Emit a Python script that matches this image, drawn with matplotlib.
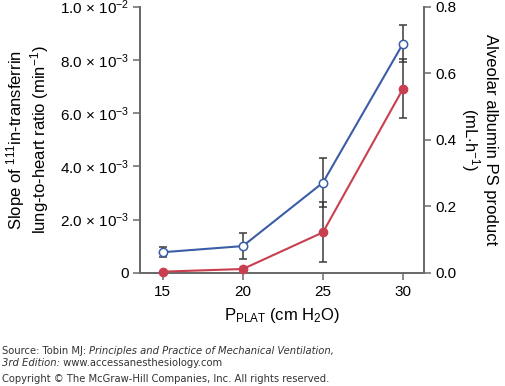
import matplotlib
matplotlib.use("Agg")
import matplotlib.pyplot as plt

plt.rcParams["font.family"] = ["Liberation Sans", "DejaVu Sans"]
plt.rcParams["mathtext.fontset"] = "custom"
plt.rcParams["mathtext.rm"] = "Liberation Sans"
plt.rcParams["mathtext.it"] = "Liberation Sans:italic"

pplat = [15, 20, 25, 30]
# 111In-transferrin slope (left axis, min^-1)
transferrin = [0.78e-3, 1.01e-3, 3.39e-3, 8.61e-3]
transferrin_err = [0.19e-3, 0.50e-3, 0.92e-3, 0.71e-3]
# alveolar albumin PS product (right axis, mL/h)
albumin = [0.004, 0.012, 0.122, 0.553]
albumin_err = [0.0, 0.0, 0.090, 0.089]

left_ticks = [0, 2e-3, 4e-3, 6e-3, 8e-3, 1e-2]
left_labels = ["0", "2.0 \u00d7 10$^{-3}$", "4.0 \u00d7 10$^{-3}$",
               "6.0 \u00d7 10$^{-3}$", "8.0 \u00d7 10$^{-3}$",
               "1.0 \u00d7 10$^{-2}$"]
right_ticks = [0.0, 0.2, 0.4, 0.6, 0.8]
right_labels = ["0.0", "0.2", "0.4", "0.6", "0.8"]

blue = "#3b5da5"
red = "#c8404f"
spine_col = "#6a6a6a"
err_col = "#3a3a3a"

fig = plt.figure(figsize=(5.05, 3.86), dpi=100)
ax = fig.add_axes([140 / 505, 113 / 386, 284 / 505, 266.5 / 386])
ax2 = ax.twinx()

for a in (ax, ax2):
    a.spines["top"].set_visible(False)
    for s in ("left", "right", "bottom"):
        a.spines[s].set_color(spine_col)
        a.spines[s].set_linewidth(1.3)
    a.tick_params(colors=spine_col, width=1.1, length=5, labelsize=11,
                  labelcolor="black", pad=3)
ax.tick_params(axis="x", pad=4)

ax.errorbar(pplat, transferrin, yerr=transferrin_err, fmt="none",
            ecolor=err_col, elinewidth=1.1, capsize=3, capthick=1.1, zorder=2)
ax.plot(pplat, transferrin, color=blue, lw=1.5, marker="o", ms=6,
        mfc="white", mec=blue, mew=1.1, zorder=3, clip_on=False)

ax2.errorbar(pplat, albumin, yerr=albumin_err, fmt="none",
             ecolor=err_col, elinewidth=1.1, capsize=3, capthick=1.1, zorder=2)
ax2.plot(pplat, albumin, color=red, lw=1.5, marker="o", ms=6,
         mfc=red, mec=red, zorder=3, clip_on=False)

ax.set_xlim(13.58, 31.31)
ax.set_ylim(0, 1e-2)
ax2.set_ylim(0, 0.8)
ax.set_xticks(pplat)
ax.set_yticks(left_ticks)
ax.set_yticklabels(left_labels)
ax2.set_yticks(right_ticks)
ax2.set_yticklabels(right_labels)

ax.set_xlabel(r"P$_{\mathrm{PLAT}}$ (cm H$_2$O)", fontsize=12, labelpad=5)
ax.set_ylabel("Slope of $^{111}$in-transferrin\nlung-to-heart ratio (min$^{-1}$)",
              fontsize=12, labelpad=6, linespacing=1.05)
ax2.set_ylabel("Alveolar albumin PS product\n(mL$\\cdot$h$^{-1}$)", fontsize=12,
               rotation=270, labelpad=30, linespacing=1.05)

src = dict(fontsize=7.2, family="DejaVu Sans", color="#333333")
fig.canvas.draw()
r = fig.canvas.get_renderer()


def run(parts, x, y):
    for txt, style in parts:
        t = fig.text(x, y, txt, style=style, ha="left", va="baseline", **src)
        bb = t.get_window_extent(renderer=r)
        x += bb.width / fig.bbox.width


run([("Source: Tobin MJ: ", "normal"),
     ("Principles and Practice of Mechanical Ventilation,", "italic")],
    2 / 505, 1 - 354 / 386)
run([("3rd Edition:", "italic"), (" www.accessanesthesiology.com", "normal")],
    2 / 505, 1 - 366 / 386)
run([("Copyright \u00a9 The McGraw-Hill Companies, Inc. All rights reserved.", "normal")],
    2 / 505, 1 - 381.5 / 386)

fig.savefig("out.png", dpi=100)
